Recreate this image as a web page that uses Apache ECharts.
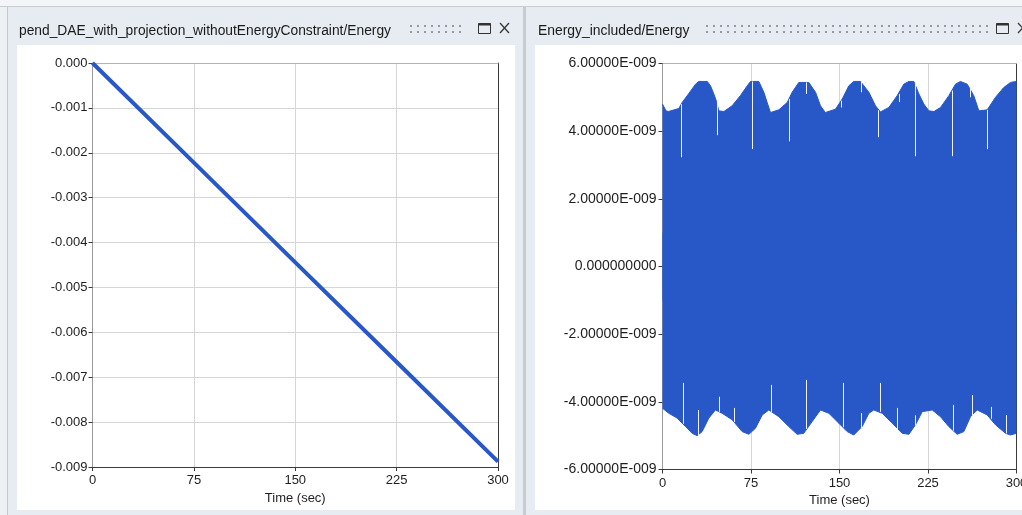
<!DOCTYPE html>
<html>
<head>
<meta charset="utf-8">
<script src="https://cdn.jsdelivr.net/npm/echarts@6/dist/echarts.min.js"></script>
<style>
html,body{margin:0;padding:0;background:#e6ecf1;}
#chart{width:1022px;height:515px;}
</style>
</head>
<body>
<div id="chart"></div>
<script>
// ---------- data ----------
const leftTitle = 'pend_DAE_with_projection_withoutEnergyConstraint/Energy';
const rightTitle = 'Energy_included/Energy';
const xTicks = [0, 75, 150, 225, 300];
const leftTime = [0, 75, 150, 225, 300];
const leftEnergy = [0, -0.00222, -0.00444, -0.00666, -0.00888];

// upper envelope of Energy_included/Energy  [time, value]
const upperEnv = [
  [0,4.80e-9],[1,4.80e-9],[3,4.60e-9],[5,4.58e-9],[13.8,4.67e-9],[16.7,4.85e-9],[22,5.10e-9],[28,5.39e-9],[30.8,5.47e-9],
  [37.9,5.47e-9],[40.7,5.34e-9],[43.5,5.10e-9],[45.8,4.88e-9],[47.7,4.60e-9],[52,4.58e-9],[59,4.75e-9],[66,5.05e-9],
  [71.8,5.34e-9],[74.6,5.47e-9],[81.6,5.47e-9],[85.9,5.15e-9],[88.7,4.85e-9],[91.5,4.55e-9],[98.6,4.63e-9],[105.7,4.85e-9],
  [109.9,5.15e-9],[115.5,5.44e-9],[124,5.44e-9],[129.7,5.15e-9],[133.9,4.75e-9],[138,4.55e-9],[146.6,4.65e-9],[152.3,4.95e-9],
  [157.9,5.34e-9],[162,5.47e-9],[167.8,5.47e-9],[174.9,5.15e-9],[180.5,4.75e-9],[184.7,4.57e-9],[191.8,4.70e-9],[198.9,5.05e-9],
  [204.5,5.39e-9],[208.8,5.47e-9],[213,5.47e-9],[217.3,5.10e-9],[221.5,4.80e-9],[225.7,4.60e-9],[230,4.58e-9],[235.6,4.70e-9],
  [242.7,5.05e-9],[248.3,5.39e-9],[252.5,5.47e-9],[258.2,5.39e-9],[263.8,5.05e-9],[268.1,4.60e-9],[275.2,4.63e-9],[282.2,5.00e-9],
  [289.2,5.29e-9],[294.9,5.44e-9],[300,5.47e-9]
];
// lower envelope [time, value]
const lowerEnv = [
  [0,-4.19e-9],[5.4,-4.34e-9],[12.4,-4.48e-9],[19.5,-4.73e-9],[25.1,-4.93e-9],[29.4,-5.00e-9],[33.6,-4.88e-9],[39.3,-4.48e-9],
  [44.9,-4.24e-9],[50.6,-4.34e-9],[59,-4.53e-9],[67.5,-4.88e-9],[73.2,-4.96e-9],[78.8,-4.78e-9],[84.5,-4.39e-9],[90.1,-4.24e-9],
  [98.6,-4.44e-9],[107,-4.73e-9],[114.1,-4.96e-9],[119.7,-4.93e-9],[126.9,-4.58e-9],[133.9,-4.24e-9],[141,-4.34e-9],[149.4,-4.63e-9],
  [156.5,-4.88e-9],[162.1,-4.98e-9],[169.2,-4.73e-9],[174.9,-4.34e-9],[179.1,-4.24e-9],[186.2,-4.34e-9],[194.7,-4.63e-9],[203.1,-4.93e-9],
  [208.8,-4.96e-9],[214.4,-4.68e-9],[220.1,-4.29e-9],[228.6,-4.24e-9],[235.6,-4.44e-9],[242.6,-4.73e-9],[249.7,-4.96e-9],[255.4,-4.88e-9],
  [261,-4.44e-9],[266.7,-4.24e-9],[275.2,-4.39e-9],[282.2,-4.68e-9],[290.7,-4.93e-9],[294.9,-4.98e-9],[300,-4.93e-9]
];
// sampling gaps in the dense signal [time, from, to]
const upperGaps = [
  [15.3,4.80e-9,3.23e-9],[45.8,4.88e-9,3.88e-9],[76,5.47e-9,3.47e-9],[107.6,4.95e-9,3.70e-9],[122,5.44e-9,5.10e-9],
  [151,4.90e-9,4.70e-9],[168,5.47e-9,5.15e-9],[183,4.62e-9,3.82e-9],[200,5.10e-9,4.86e-9],[213.6,5.47e-9,3.26e-9],
  [245,5.20e-9,3.26e-9],[261,5.30e-9,5.00e-9],[275.4,4.63e-9,3.47e-9]
];
const lowerGaps = [
  [17,-4.65e-9,-3.44e-9],[30.5,-5.00e-9,-4.24e-9],[47.5,-4.30e-9,-3.85e-9],[61,-4.60e-9,-4.18e-9],[92,-4.30e-9,-3.50e-9],
  [122,-4.80e-9,-3.35e-9],[153,-4.75e-9,-3.44e-9],[168,-4.80e-9,-4.33e-9],[184,-4.30e-9,-3.44e-9],[199,-4.80e-9,-4.18e-9],
  [214,-4.70e-9,-4.40e-9],[246.6,-4.85e-9,-4.09e-9],[262.7,-4.40e-9,-3.80e-9],[278,-4.50e-9,-4.15e-9],[290.7,-4.93e-9,-4.39e-9]
];

// ---------- style ----------
const BLUE = '#2857c7';
const FONT = 'Liberation Sans';
const LBL = '#1e1e1e';

function fmtLeft(v){ if (Math.abs(v) < 1e-9) return '0.000'; return v.toFixed(3); }
function fmtRight(v){
  if (Math.abs(v) < 1e-15) return '0.000000000';
  const m = v / 1e-9;
  return (m < 0 ? '-' : '') + Math.abs(m).toFixed(5) + 'E-009';
}

const chart = echarts.init(document.getElementById('chart'), null, {renderer:'canvas'});

function bottomAxis(gi){
  return {
    type:'value', gridIndex:gi, position:'bottom', min:xTicks[0], max:xTicks[xTicks.length-1], interval:75,
    axisLine:{show:true, onZero:false, lineStyle:{color:'#3a3a3a', width:1}},
    axisTick:{show:true, length:4, lineStyle:{color:'#3a3a3a'}},
    axisLabel:{color:LBL, fontFamily:FONT, fontSize:13, margin:7, showMinLabel:true, showMaxLabel:true, hideOverlap:false},
    splitLine:{show:true, lineStyle:{color:'#d6d6d6', width:1}},
    name:'Time (sec)', nameLocation:'middle', nameGap:23,
    nameTextStyle:{color:LBL, fontFamily:FONT, fontSize:13}
  };
}
function topAxis(gi){
  return {type:'value', gridIndex:gi, position:'top', min:0, max:300,
    axisLine:{show:true, onZero:false, lineStyle:{color:'#b4b4b4'}}, axisTick:{show:false},
    axisLabel:{show:false}, splitLine:{show:false}};
}
function rightAxis(gi, mn, mx){
  return {type:'value', gridIndex:gi, position:'right', min:mn, max:mx,
    axisLine:{show:true, onZero:false, lineStyle:{color:'#3a3a3a'}}, axisTick:{show:false},
    axisLabel:{show:false}, splitLine:{show:false}};
}

const dots = [];
function addDots(x0, x1){
  for (let x = x0; x <= x1; x += 7) {
    for (const y of [25, 31]) {
      dots.push({type:'rect', shape:{x:x, y:y, width:2, height:2}, style:{fill:'#8d9aa8'}, silent:true});
    }
  }
}
addDots(410, 463);
addDots(706, 990);

function winIcons(x){
  return [
    {type:'rect', shape:{x:x+0.5, y:23.5, width:12, height:10}, style:{fill:'none', stroke:'#333', lineWidth:1}},
    {type:'rect', shape:{x:x+0.5, y:23.5, width:12, height:2}, style:{fill:'#333'}},
    {type:'line', shape:{x1:x+22, y1:23, x2:x+31, y2:33}, style:{stroke:'#333', lineWidth:1.2}},
    {type:'line', shape:{x1:x+31, y1:23, x2:x+22, y2:33}, style:{stroke:'#333', lineWidth:1.2}}
  ];
}

const graphics = [
  {type:'rect', z:-10, shape:{x:0, y:0, width:1022, height:6}, style:{fill:'#f3f5f7'}},
  {type:'line', z:-9, shape:{x1:0, y1:6.5, x2:1022, y2:6.5}, style:{stroke:'#c8cdd2', lineWidth:1}},
  {type:'rect', z:-10, shape:{x:0, y:7, width:7, height:508}, style:{fill:'#eef1f4'}},
  {type:'line', z:-9, shape:{x1:7.5, y1:6, x2:7.5, y2:515}, style:{stroke:'#c3c9cf', lineWidth:1}},
  {type:'rect', z:-9, shape:{x:523, y:7, width:3, height:508}, style:{fill:'#c6ccd2'}},
  {type:'rect', z:-8, shape:{x:17, y:45, width:498, height:465}, style:{fill:'#ffffff'}},
  {type:'rect', z:-8, shape:{x:535, y:45, width:487, height:465}, style:{fill:'#ffffff'}},
  {type:'text', x:19, y:31, style:{text:leftTitle, fill:'#1a1a1a', font:'13.8px "Liberation Sans"', verticalAlign:'middle'}},
  {type:'text', x:538, y:31, style:{text:rightTitle, fill:'#1a1a1a', font:'13.9px "Liberation Sans"', verticalAlign:'middle'}}
].concat(dots, winIcons(478), winIcons(996));

const option = {
  backgroundColor:'#e6ecf1',
  animation:false,
  graphic: graphics,
  grid:[
    {left:92.5, top:63, width:405.5, height:404, containLabel:false, outerBoundsMode:'none'},
    {left:662.5, top:63.5, width:354, height:406, containLabel:false, outerBoundsMode:'none'}
  ],
  xAxis:[ bottomAxis(0), topAxis(0), bottomAxis(1), topAxis(1) ],
  yAxis:[
    {type:'value', gridIndex:0, min:-0.009, max:0, interval:0.001,
      axisLine:{show:true, onZero:false, lineStyle:{color:'#9a9a9a'}},
      axisTick:{show:true, length:4, lineStyle:{color:'#3a3a3a'}},
      axisLabel:{color:LBL, fontFamily:FONT, fontSize:13, margin:5, formatter:fmtLeft},
      splitLine:{show:true, lineStyle:{color:'#d6d6d6'}}},
    rightAxis(0, -0.009, 0),
    {type:'value', gridIndex:1, min:-6e-9, max:6e-9, interval:2e-9,
      axisLine:{show:true, onZero:false, lineStyle:{color:'#9a9a9a'}},
      axisTick:{show:true, length:4, lineStyle:{color:'#3a3a3a'}},
      axisLabel:{color:LBL, fontFamily:FONT, fontSize:14, margin:6, formatter:fmtRight},
      splitLine:{show:true, lineStyle:{color:'#d6d6d6'}}},
    rightAxis(1, -6e-9, 6e-9)
  ],
  series:[
    {type:'line', xAxisIndex:0, yAxisIndex:0, data:leftTime.map((t,i)=>[t, leftEnergy[i]]),
      showSymbol:false, clip:false, lineStyle:{color:BLUE, width:4}, itemStyle:{color:BLUE}, z:3},
    {type:'line', xAxisIndex:2, yAxisIndex:2, data:upperEnv, showSymbol:false,
      lineStyle:{color:BLUE, width:1}, areaStyle:{color:BLUE, opacity:1, origin:-1e-9}, z:3},
    {type:'line', xAxisIndex:2, yAxisIndex:2, data:lowerEnv, showSymbol:false,
      lineStyle:{color:BLUE, width:1}, areaStyle:{color:BLUE, opacity:1, origin:1e-9}, z:3},
    {type:'custom', xAxisIndex:2, yAxisIndex:2, data:upperGaps.concat(lowerGaps), z:4,
      encode:{x:0, y:[1,2]},
      renderItem:function(params, api){
        const p1 = api.coord([api.value(0), api.value(1)]);
        const p2 = api.coord([api.value(0), api.value(2)]);
        const x = Math.round(p1[0]) + 0.5;
        return {type:'line', shape:{x1:x, y1:p1[1], x2:x, y2:p2[1]},
          style:{stroke:'#eef1f9', lineWidth:1}};
      }}
  ]
};
chart.setOption(option);
</script>
</body>
</html>
